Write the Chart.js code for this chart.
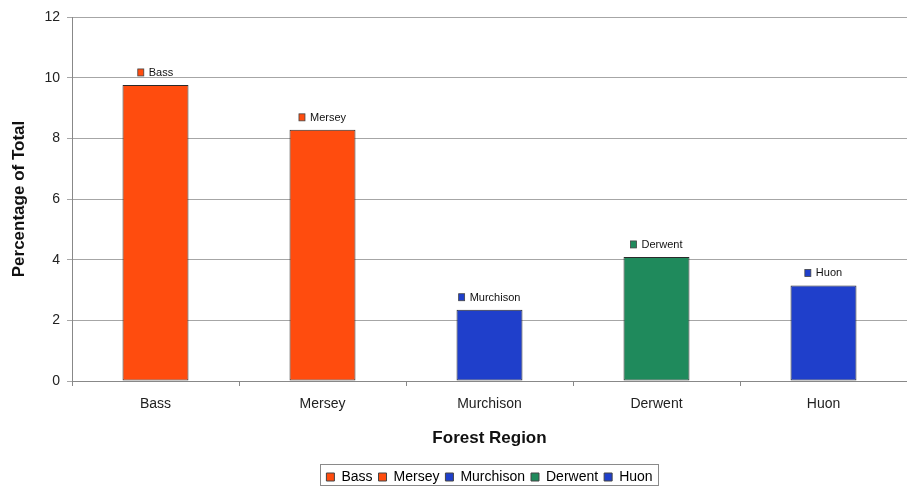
<!DOCTYPE html>
<html>
<head>
<meta charset="utf-8">
<script src="https://cdn.jsdelivr.net/npm/chart.js@4/dist/chart.umd.min.js"></script>
<style>
  html,body{margin:0;padding:0;background:#fff;}
  #wrap{width:907px;height:488px;position:relative;}
</style>
</head>
<body>
<div id="wrap"><canvas id="regionChart"></canvas></div>
<script>
// ===================== DATA =====================
const regions=['Bass','Mersey','Murchison','Derwent','Huon'];
const shares=[9.76,8.28,2.35,4.09,3.15];
const barColors=['#ff4c0e','#ff4c0e','#1f3fcb','#1f8a5c','#1f3fcb'];
const yTicks=[0,2,4,6,8,10,12];

const FONT='"Liberation Sans", Arial, sans-serif';

// small square + region name above each bar
const barTags={
  id:'barTags',
  afterDatasetsDraw(chart){
    const ctx=chart.ctx;
    const meta=chart.getDatasetMeta(0);
    ctx.save();
    ctx.font='11px '+FONT;
    ctx.textBaseline='middle';
    meta.data.forEach((bar,i)=>{
      const txt=regions[i];
      const tw=ctx.measureText(txt).width;
      const total=6+5+tw;
      const x0=bar.x-total/2;
      const cy=bar.y-12;
      ctx.fillStyle=barColors[i];
      ctx.fillRect(x0,cy-4,6,7);
      ctx.strokeStyle='#444';ctx.lineWidth=0.8;
      ctx.strokeRect(x0,cy-4,6,7);
      ctx.fillStyle='#111';
      ctx.fillText(txt,x0+11,cy);
    });
    ctx.restore();
  }
};

// legend centred under the plot area, with a frame round it
const legendFrame={
  id:'legendFrame',
  afterLayout(chart){
    const lg=chart.legend;
    lg.left=chart.chartArea.left;
    lg.right=chart.chartArea.right;
    lg.top+=6;lg.bottom+=6;
  },
  afterDraw(chart){
    const lg=chart.legend;
    if(!lg||!lg.lineWidths) return;
    const pad=lg.options.labels.padding;
    const w=lg.lineWidths[0]-pad;
    const cx=(lg.left+lg.right)/2;
    const ctx=chart.ctx;
    ctx.save();
    ctx.strokeStyle='#8a8a8a';ctx.lineWidth=1;
    ctx.strokeRect(Math.round(cx-w/2-6)+0.5,lg.top+0.5,Math.round(w+12),lg.height-9);
    ctx.restore();
  }
};

new Chart(document.getElementById('regionChart').getContext('2d'),{
  type:'bar',
  data:{labels:regions,datasets:[{
    label:'Percentage of Total',
    data:shares,
    backgroundColor:barColors,
    borderColor:'#2a2a2a',
    borderWidth:1,
    borderSkipped:false,
    barPercentage:0.395,
    categoryPercentage:1
  }]},
  options:{
    responsive:true,maintainAspectRatio:false,animation:false,
    layout:{padding:{top:17,right:0,bottom:0,left:0}},
    plugins:{
      tooltip:{enabled:false},
      legend:{position:'bottom',
        labels:{color:'#111',font:{family:FONT,size:14},boxWidth:8,boxHeight:8,padding:6,
          generateLabels:()=>regions.map((r,i)=>({text:r,fillStyle:barColors[i],strokeStyle:'#444',lineWidth:1,hidden:false,index:i}))},
        onClick:()=>{}}
    },
    scales:{
      x:{
        grid:{display:true,drawOnChartArea:false,offset:true,tickLength:5,color:'#888'},
        border:{color:'#888'},
        ticks:{color:'#222',font:{family:FONT,size:14},padding:10},
        title:{display:true,text:'Forest Region',color:'#111',font:{family:FONT,size:17,weight:'bold'},padding:{top:4,bottom:9}},
        afterFit:s=>{s.height=77;}
      },
      y:{
        min:0,max:12,
        afterBuildTicks:s=>{s.ticks=yTicks.map(v=>({value:v}));},
        grid:{color:'#a6a6a6',tickLength:5},
        border:{color:'#888'},
        ticks:{color:'#222',font:{family:FONT,size:14},padding:7},
        title:{display:true,text:'Percentage of Total',color:'#111',font:{family:FONT,size:17,weight:'bold'},padding:{top:9,bottom:0}},
        afterFit:s=>{s.width=72;}
      }
    }
  },
  plugins:[barTags,legendFrame]
});
</script>
</body>
</html>
